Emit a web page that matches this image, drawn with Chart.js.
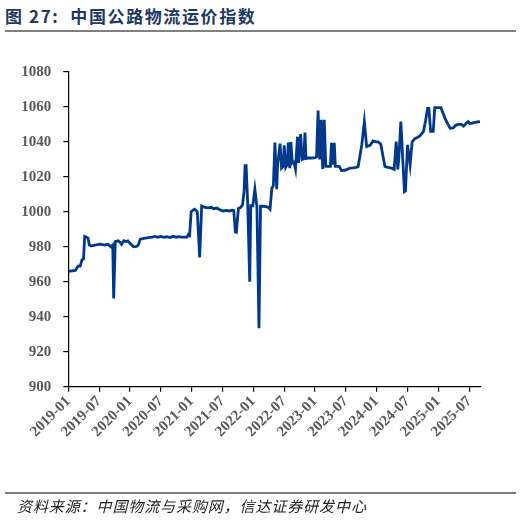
<!DOCTYPE html>
<html>
<head>
<meta charset="utf-8">
<script src="https://cdn.jsdelivr.net/npm/chart.js@4"></script>
<style>
  body { margin: 0; background: #fff; }
  #wrap { position: relative; width: 521px; height: 520px; overflow: hidden; }
  #title { position: absolute; left: 5px; top: 3px; font: bold 17px "Noto Sans CJK SC", sans-serif; color: #1f3864; letter-spacing: 1.6px; white-space: nowrap; }
  .rule { position: absolute; left: 5px; width: 511px; height: 1.5px; background: #808080; }
  #source { position: absolute; left: 17px; top: 495px; font: italic 15px "Noto Sans CJK SC", serif; color: #222; letter-spacing: 0.9px; white-space: nowrap; }
  canvas { position: absolute; left: 0; top: 0; }
</style>
</head>
<body>
<div id="wrap">
  <div id="title">图 27:&nbsp; 中国公路物流运价指数</div>
  <div class="rule" style="top:30px"></div>
  <canvas id="chart" width="521" height="520"></canvas>
  <div class="rule" style="top:492px"></div>
  <div id="source">资料来源：中国物流与采购网，信达证券研发中心</div>
</div>
<script>
// x = months since 2019-01
const tickLabels = ['2019-01', '2019-07', '2020-01', '2020-07', '2021-01', '2021-07', '2022-01',
  '2022-07', '2023-01', '2023-07', '2024-01', '2024-07', '2025-01', '2025-07'];

const months = [
  0.08, 1.36, 1.9, 2.3, 2.67, 2.96, 3.19, 3.54, 3.83, 4.1, 4.47, 5.2, 6.2, 7.1, 7.7, 8.3, 8.65, 8.83, 9.14, 9.7,
  10.1, 10.35, 10.8, 11.2, 11.6, 12.0, 12.7, 13.3, 13.6, 14.0, 14.7, 15.6, 16.3, 16.9, 17.4, 18.0, 18.6, 19.2, 19.8, 20.4,
  21.0, 21.5, 22.1, 22.7, 23.1, 23.35, 23.6, 23.9, 24.25, 24.6, 25.1, 25.56, 25.95, 26.6, 27.2, 27.8, 28.3, 28.9, 29.5, 30.1,
  30.7, 31.3, 31.8, 32.2, 32.5, 32.7, 33.1, 33.5, 33.9, 34.2, 34.4, 34.6, 34.9, 35.3, 35.5, 35.9, 36.3, 36.7, 37.1, 37.4,
  37.9, 38.5, 38.9, 39.25, 39.6, 39.9, 40.2, 40.55, 40.7, 41.2, 41.5, 41.8, 42.0, 42.3, 42.6, 42.8, 43.1, 43.3, 43.6, 43.9,
  44.2, 44.6, 44.8, 45.2, 45.5, 45.8, 46.05, 46.25, 46.7, 47.3, 48.0, 48.3, 48.6, 48.9, 49.2, 49.5, 49.8, 50.1, 50.6, 51.0,
  51.2, 51.45, 51.75, 51.95, 52.7, 53.15, 53.8, 54.8, 55.4, 56.0, 56.4, 57.1, 57.6, 58.05, 58.7, 59.3, 59.9,
  60.3, 60.8, 61.6, 62.2, 62.9, 63.4, 63.8, 64.1, 64.3, 64.7, 65.1, 65.4, 65.6, 66.0, 66.5, 66.9, 67.5, 67.9, 68.4, 69.1,
  69.5, 69.9, 70.15, 70.5, 71.0, 71.3, 71.9, 72.5, 72.9, 73.3, 73.8, 74.3, 74.9, 75.4, 75.9, 76.5, 76.9, 77.4, 77.8, 78.1,
  78.6, 79.1, 79.6, 80.1
];

const indexValues = [
  966, 966.5, 969, 969, 972.6, 973, 986, 985.5, 985, 981, 980.5, 981, 981.5, 981, 981.5, 980, 981, 950.5, 983, 983.5,
  982.5, 981.5, 983.5, 983, 983.4, 982, 980, 980.2, 981, 984.4, 984.8, 985.3, 985.5, 986, 985.5, 986, 985.4, 985.8, 985.3, 986,
  985.5, 985.8, 985.6, 985.5, 985.5, 987, 986.5, 1000, 1001, 1001.5, 1000, 974, 1003.4, 1002.5, 1002.3, 1002.6, 1001.8, 1002.2, 1001.2, 1000.5,
  1000.8, 1000.5, 1001, 1000.8, 988.5, 988.3, 1002, 1002.5, 1004, 1012, 1026.5, 1026.5, 1005, 960, 1003.5, 1003.5, 1013, 1003, 933.5, 1003.2,
  1003.2, 1003, 1002.6, 1001.5, 1013.5, 1015, 1039.6, 1013, 1026, 1039, 1025, 1026, 1038, 1025.5, 1027, 1039.6, 1025, 1040, 1028, 1028.5,
  1024.5, 1043, 1028, 1044.5, 1030, 1030.5, 1045.3, 1030.5, 1030.8, 1030.8, 1031, 1031.5, 1058, 1030, 1052.6, 1024.5, 1052.6, 1026, 1026, 1026,
  1039.5, 1027, 1039.5, 1026, 1026, 1023.6, 1023.8, 1025, 1025.2, 1025.5, 1026, 1038.3, 1051.6, 1037.3, 1038, 1040.6, 1040,
  1040, 1038.7, 1026, 1025.5, 1025, 1024.3, 1040.2, 1024.3, 1030, 1051.6, 1028.8, 1011.6, 1012, 1038.3, 1026.9, 1040, 1042, 1042.5, 1043.4, 1045.9,
  1052, 1059.2, 1059.2, 1046, 1046, 1059.6, 1059.6, 1059.6, 1056.5, 1053.5, 1050.5, 1047.8, 1048, 1049.5, 1050, 1050, 1049, 1050.5, 1051.6, 1050.5,
  1050.8, 1051.2, 1051.4, 1051.6
];

const tickFont = { family: '"Liberation Serif", "Times New Roman", serif', size: 15, weight: 'bold' };

new Chart(document.getElementById('chart'), {
  type: 'line',
  data: {
    datasets: [{
      data: months.map((m, i) => ({ x: m, y: indexValues[i] })),
      borderColor: '#00388c',
      borderWidth: 2.8,
      pointRadius: 0,
      tension: 0,
      fill: false
    }]
  },
  options: {
    responsive: false,
    animation: false,
    events: [],
    layout: { padding: { top: 72, right: 40.5, bottom: 0, left: 0 } },
    plugins: { legend: { display: false }, tooltip: { enabled: false } },
    scales: {
      x: {
        type: 'linear',
        min: 0,
        max: 80.2,
        afterFit: s => { s.height = 520 - 386.7; },
        afterBuildTicks: s => { s.ticks = tickLabels.map((_, i) => ({ value: i * 6 })); },
        border: { color: '#000', width: 1.2 },
        grid: { drawOnChartArea: false, color: '#000', tickLength: 5, lineWidth: 1.2 },
        ticks: {
          minRotation: 45,
          maxRotation: 45,
          padding: 1,
          color: '#595959',
          font: tickFont,
          callback: v => tickLabels[Math.round(v / 6)]
        }
      },
      y: {
        min: 900,
        max: 1080,
        afterFit: s => { s.width = 68.3; },
        border: { color: '#000', width: 1.2 },
        grid: { drawOnChartArea: false, color: '#000', tickLength: 5, lineWidth: 1.2 },
        ticks: { stepSize: 20, padding: 12, color: '#595959', font: tickFont, callback: v => String(v) }
      }
    }
  }
});
</script>
</body>
</html>
